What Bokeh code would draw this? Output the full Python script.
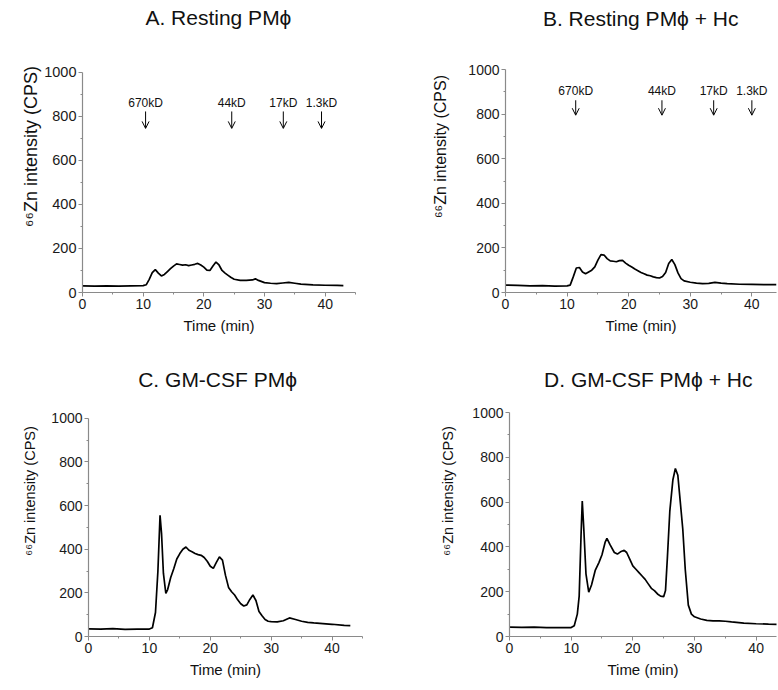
from bokeh.plotting import figure
from bokeh.layouts import column, row
from bokeh.models import FixedTicker, Arrow, OpenHead, Label, Range1d, ColumnDataSource
from bokeh.embed import file_html
from bokeh.resources import INLINE
from bokeh.core.properties import value

FONT = "Liberation Sans"

# ---------------- data ----------------
time_A = [0, 2, 4, 6, 8, 10, 10.5, 11, 11.5, 12, 12.5, 13, 13.5, 14, 14.5, 15, 15.5, 16, 16.5, 17,
          17.5, 18, 18.5, 19, 19.5, 20, 20.5, 21, 21.5, 22, 22.5, 23, 23.5, 24, 24.5, 25, 26, 27, 28,
          28.5, 29, 30, 31, 32, 33, 34, 35, 36, 38, 40, 42, 43]
zn_A = [30, 29, 30, 29, 30, 31, 35, 60, 90, 104, 88, 75, 82, 95, 108, 120, 130, 127, 124, 126,
        122, 125, 128, 132, 125, 115, 102, 100, 120, 138, 125, 100, 88, 78, 68, 60, 55, 55, 57,
        62, 55, 45, 42, 40, 43, 46, 42, 38, 35, 33, 32, 31]

time_B = [0, 2, 4, 6, 8, 10, 10.5, 11, 11.5, 12, 12.5, 13, 13.5, 14, 14.5, 15, 15.5, 16, 16.5, 17,
          17.5, 18, 18.5, 19, 19.5, 20, 20.5, 21, 21.5, 22, 22.5, 23, 23.5, 24, 24.5, 25, 25.5, 26,
          26.5, 27, 27.5, 28, 28.5, 29, 30, 31, 32, 33, 34, 35, 36, 38, 40, 42, 44]
zn_B = [33, 32, 30, 31, 29, 30, 33, 70, 110, 112, 92, 84, 92, 100, 115, 145, 170, 168, 152, 142,
        140, 138, 143, 144, 132, 122, 114, 105, 98, 90, 84, 78, 75, 70, 67, 65, 72, 90,
        130, 148, 125, 88, 62, 52, 46, 42, 40, 41, 45, 42, 40, 37, 36, 35, 35]

time_C = [0, 2, 4, 6, 8, 10, 10.5, 11, 11.4, 11.75, 12, 12.3, 12.7, 13, 13.5, 14, 14.5, 15, 15.5,
          16, 16.5, 17, 17.5, 18, 18.5, 19, 19.5, 20, 20.5, 21, 21.5, 22, 22.5, 23, 23.5, 24, 24.5,
          25, 25.5, 26, 26.5, 27, 27.5, 28, 28.5, 29, 29.5, 30, 31, 32, 33, 34, 35, 36, 37, 38, 40,
          42, 43]
zn_C = [35, 34, 36, 33, 34, 34, 40, 110, 300, 555, 470, 290, 197, 215, 270, 310, 355, 380, 400,
        410, 395, 388, 380, 375, 372, 362, 345, 322, 312, 340, 365, 350, 280, 225, 205, 190, 168,
        150, 140, 145, 170, 190, 165, 115, 95, 78, 70, 68, 67, 72, 85, 78, 70, 65, 62, 60, 56,
        51, 50]

time_D = [0, 2, 4, 6, 8, 10, 10.5, 11, 11.3, 11.6, 11.8, 12.05, 12.4, 12.85, 13.3, 13.9, 14.5, 15,
          15.5, 15.8, 16.3, 17, 17.5, 18, 18.6, 19, 19.5, 20, 20.5, 21, 21.5, 22, 22.5, 23, 23.5,
          24, 24.5, 25, 25.3, 25.6, 26, 26.5, 26.9, 27.3, 27.7, 28.1, 28.5, 29, 29.5, 30, 31, 32,
          33, 34, 35, 36, 38, 40, 42, 43.5]
zn_D = [42, 41, 42, 40, 40, 40, 48, 100, 180, 450, 605, 480, 280, 198, 230, 295, 330, 365,
        420, 438, 410, 375, 368, 378, 385, 375, 345, 315, 300, 285, 270, 255, 235, 215, 205,
        190, 180, 178, 205, 350, 560, 700, 750, 720, 600, 480, 300, 140, 100, 88, 78, 72,
        70, 70, 68, 65, 60, 57, 55, 54]

marker_labels = ["670kD", "44kD", "17kD", "1.3kD"]
marker_time_A = [10.4, 24.6, 33.1, 39.4]
marker_time_B = [11.4, 25.4, 33.8, 40.0]

titles = ["A. Resting PM\u03d5", "B. Resting PM\u03d5 + Hc",
          "C. GM-CSF PM\u03d5", "D. GM-CSF PM\u03d5 + Hc"]
x_label = "Time (min)"
y_label = "\u2076\u2076Zn intensity (CPS)"
x_major = [0, 10, 20, 30, 40]
y_major = [0, 200, 400, 600, 800, 1000]
Y_MAX = 1000
FIG_H = 345


def panel(title, t, zn, x_end, borders, px_1000, title_px, ylabel_size, ylabel_standoff,
          ytick_size, markers=None, marker_y=None):
    """borders: (left, right, bottom) in px; px_1000: px from figure top to y=1000;
    title_px: (x in data units, px from figure top of the title centre)."""
    left, right, bottom = borders
    frame_h = FIG_H - bottom
    per_px = Y_MAX / (frame_h - px_1000)          # data units per pixel
    y_end = frame_h * per_px                      # frame extends up to figure top
    p = figure(width=389, height=FIG_H, output_backend="svg", toolbar_location=None,
               x_range=Range1d(0, x_end), y_range=Range1d(0, y_end),
               min_border_left=left, min_border_right=right,
               min_border_top=0, min_border_bottom=bottom)
    p.outline_line_color = None
    p.xgrid.visible = False
    p.ygrid.visible = False
    p.background_fill_color = "white"
    p.border_fill_color = "white"

    p.xaxis.ticker = FixedTicker(ticks=x_major, minor_ticks=[5, 15, 25, 35, 45])
    p.yaxis.ticker = FixedTicker(ticks=y_major, minor_ticks=[100, 300, 500, 700, 900])
    p.yaxis.bounds = (0, Y_MAX)
    for ax in (p.xaxis[0], p.yaxis[0]):
        ax.axis_line_color = "#8a8a8a"
        ax.axis_line_width = 1.2
        ax.major_tick_line_color = "#8a8a8a"
        ax.minor_tick_line_color = "#8a8a8a"
        ax.major_tick_in = 0
        ax.major_tick_out = 4
        ax.minor_tick_in = 0
        ax.minor_tick_out = 2
        ax.major_label_text_font = FONT
        ax.major_label_text_color = "#1a1a1a"
        ax.axis_label_text_font = FONT
        ax.axis_label_text_font_style = "normal"
        ax.axis_label_text_color = "#111111"
        ax.major_label_standoff = 2
    p.xaxis.axis_label = x_label
    p.xaxis.axis_label_text_font_size = "15px"
    p.xaxis.major_label_text_font_size = "14px"
    p.xaxis.axis_label_standoff = 5
    p.yaxis.axis_label = y_label
    p.yaxis.axis_label_text_font_size = ylabel_size
    p.yaxis.major_label_text_font_size = ytick_size
    p.yaxis.axis_label_standoff = ylabel_standoff

    tx, tpx = title_px
    p.add_layout(Label(x=tx, y=(frame_h - tpx) * per_px, text=title, text_align="center",
                       text_baseline="middle", text_font=FONT, text_font_size="21px",
                       text_color="#111111"))

    src = ColumnDataSource(dict(t=t, zn=zn))
    p.line("t", "zn", source=src, line_color="black", line_width=1.7)

    if markers is not None:
        label_y, arrow_top, arrow_bottom = marker_y
        msrc = ColumnDataSource(dict(x=markers, y=[label_y] * len(markers), txt=marker_labels))
        p.text("x", "y", text="txt", source=msrc, text_font=value(FONT),
               text_font_size="12px", text_align="center", text_baseline="middle",
               text_color="#111111")
        for mx in markers:
            p.add_layout(Arrow(end=OpenHead(size=7, line_width=1, line_color="black"),
                               x_start=mx, y_start=arrow_top, x_end=mx, y_end=arrow_bottom,
                               line_width=1, line_color="black"))
    return p


pA = panel(titles[0], time_A, zn_A, 45, (82, 34, 52), 72, (22.4, 17), "18px", 0, "14.5px",
           marker_time_A, (860, 822, 745))
pB = panel(titles[1], time_B, zn_B, 44, (116, 2, 53), 69, (21.95, 17.5), "16px", 16, "14px",
           marker_time_B, (905, 862, 795))
pC = panel(titles[2], time_C, zn_C, 45, (88, 27, 49), 74, (21.2, 35), "14.5px", 10, "14px")
pD = panel(titles[3], time_D, zn_D, 43.3, (120, 2, 54), 67, (22.5, 34), "14.5px", 13, "14px")

layout = column(row(pA, pB), row(pC, pD))

with open("out.html", "w") as f:
    f.write(file_html(layout, INLINE))
